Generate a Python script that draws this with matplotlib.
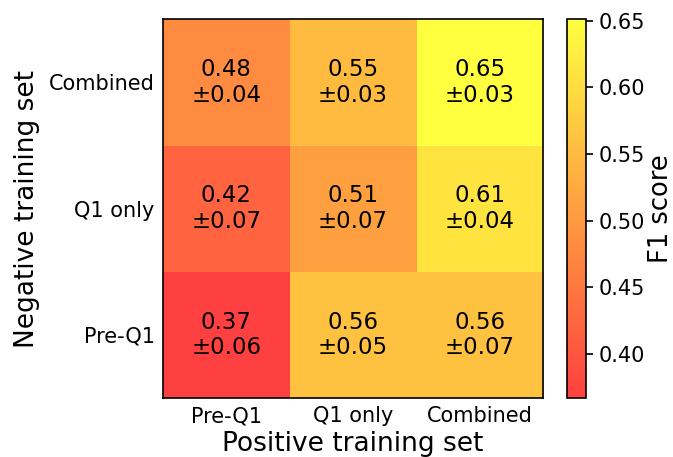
import numpy as np
import matplotlib
matplotlib.use("Agg")
import matplotlib.pyplot as plt

# Training-set labels (rows: negative set, columns: positive set)
positive_sets = ["Pre-Q1", "Q1 only", "Combined"]
negative_sets = ["Pre-Q1", "Q1 only", "Combined"]

# Mean F1 score, rows ordered bottom-to-top as in negative_sets
f1_mean = np.array([
    [0.367, 0.56, 0.56],
    [0.42, 0.51, 0.61],
    [0.48, 0.55, 0.651],
])
# Standard deviation of F1 score
f1_std = np.array([
    [0.06, 0.05, 0.07],
    [0.07, 0.07, 0.04],
    [0.04, 0.03, 0.03],
])

cbar_ticks = [0.40, 0.45, 0.50, 0.55, 0.60, 0.65]

fig = plt.figure(figsize=(6.73, 4.57), dpi=100)
ax = fig.add_axes([0.242, 0.129, 0.565, 0.829])
cax = fig.add_axes([0.843, 0.129, 0.028, 0.829])

im = ax.imshow(f1_mean, cmap="autumn", alpha=0.75, origin="lower",
               aspect="auto", vmin=f1_mean.min(), vmax=f1_mean.max())

for i in range(f1_mean.shape[0]):
    for j in range(f1_mean.shape[1]):
        ax.text(j, i, f"{f1_mean[i, j]:.2f}\n±{f1_std[i, j]:.2f}",
                ha="center", va="center", fontsize=16.5, color="black",
                linespacing=1.15)

ax.set_xticks(range(len(positive_sets)))
ax.set_xticklabels(positive_sets, fontsize=15)
ax.set_yticks(range(len(negative_sets)))
ax.set_yticklabels(negative_sets, fontsize=15)
ax.tick_params(length=0, pad=6)
ax.set_xlabel("Positive training set", fontsize=19, labelpad=3)
ax.set_ylabel("Negative training set", fontsize=19, labelpad=6)
for s in ax.spines.values():
    s.set_linewidth(1.2)

cb = fig.colorbar(im, cax=cax)
cb.set_ticks(cbar_ticks)
cb.set_ticklabels([f"{t:.2f}" for t in cbar_ticks])
cb.ax.tick_params(labelsize=15, length=5, width=1.2, pad=4)
cb.outline.set_linewidth(1.2)
cb.set_label("F1 score", fontsize=18.5, labelpad=2)

fig.savefig("out.png", dpi=100)
